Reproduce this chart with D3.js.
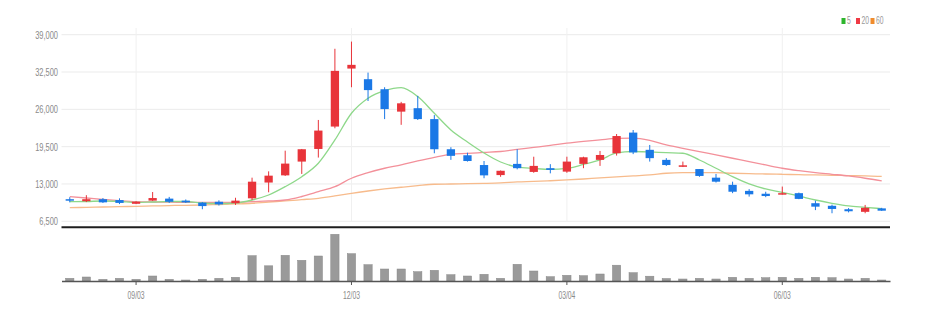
<!DOCTYPE html>
<html><head><meta charset="utf-8">
<script src="https://cdn.jsdelivr.net/npm/d3@7"></script>
<style>
html,body{margin:0;padding:0;background:#fff;}
svg{display:block;font-family:"Liberation Sans",Arial,sans-serif;}
</style></head>
<body><svg id="c" width="925" height="316"></svg>
<script>
const dates = ["2018-08-06","2018-08-13","2018-08-20","2018-08-27","2018-09-03","2018-09-10","2018-09-17","2018-09-24","2018-10-01","2018-10-08",
"2018-10-15","2018-10-22","2018-10-29","2018-11-05","2018-11-12","2018-11-19","2018-11-26","2018-12-03","2018-12-10","2018-12-17",
"2018-12-24","2018-12-31","2019-01-07","2019-01-14","2019-01-21","2019-01-28","2019-02-04","2019-02-11","2019-02-18","2019-02-25",
"2019-03-04","2019-03-11","2019-03-18","2019-03-25","2019-04-01","2019-04-08","2019-04-15","2019-04-22","2019-04-29","2019-05-06",
"2019-05-13","2019-05-20","2019-05-27","2019-06-03","2019-06-10","2019-06-17","2019-06-24","2019-07-01","2019-07-08","2019-07-15"];
const open  = [10350,10000,10350,10200,9550,10100,10450,10100,9750,9900,9650,10500,13250,14500,16900,19100,23000,33100,31250,29500,25600,26200,24300,19050,18000,16300,14550,16500,15100,15750,15150,16500,17200,18350,21950,18950,17200,16000,15600,14100,12850,11800,11300,11150,11400,9650,9200,8600,8150,8750];
const high  = [10700,11050,10550,10500,10000,11600,10750,10300,9850,10150,10600,14100,15200,18800,19100,24150,36550,37800,32400,29850,27300,28350,25000,19400,18450,17000,15350,19050,17750,16450,17750,17750,18750,21700,22400,19800,17500,16900,15600,14750,13400,12100,11650,12550,11500,10100,9400,8800,9350,8850];
const low   = [9800,9850,9700,9500,9500,10050,9700,9700,8600,9250,9350,10200,11550,14400,14750,17600,22700,29850,27450,24300,23300,24150,18350,17200,16900,14000,14250,15550,14950,14850,14950,15750,16150,17950,18200,16900,16150,15950,14250,13250,11400,10800,10700,11150,10350,8450,7900,8050,7900,8300];
const close = [10100,10350,9800,9700,9900,10550,9900,9800,9150,9450,10100,13400,14450,16550,19050,22300,32700,33750,29350,26050,27050,24300,19050,17900,17000,14500,15300,15750,16150,15450,16900,17650,18050,21350,18500,17500,16300,16250,14400,13400,11650,11200,10900,11400,10400,9050,8650,8250,8850,8350];
const volume = [270000,400000,170000,270000,170000,500000,170000,100000,170000,270000,370000,2530000,1520000,2570000,2070000,2500000,4670000,2730000,1630000,1200000,1200000,930000,1070000,630000,500000,670000,270000,1670000,1000000,430000,570000,530000,700000,1580000,830000,480000,250000,200000,270000,200000,370000,270000,330000,370000,270000,370000,330000,200000,270000,100000];
const ma5  = [9920,9950,10040,9950,9780,9860,9950,9950,9690,9600,9690,10210,11080,12530,14270,16610,20670,25320,27940,29260,29790,28220,25320,22410,20320,18400,16830,15960,15700,15530,15700,16400,17180,18400,18660,18580,18450,18350,17180,15740,14270,13000,12130,11550,10910,10210,9640,9170,8940,8700];
const ma20 = [10790,10560,10300,10090,9920,9860,9830,9810,9780,9780,9810,9920,10040,10210,10820,11660,12530,14000,14970,15740,16310,17010,17650,18170,18320,18490,18660,19010,19360,19710,20100,20410,20670,20930,20970,20580,19800,19220,18630,18060,17480,16890,16310,15740,15320,14970,14690,14400,14000,13530];
const ma60 = [8880,8930,8990,9050,9110,9170,9240,9290,9340,9430,9520,9640,9860,10040,10270,10510,10910,11380,11780,12130,12430,12710,12950,13000,13050,13100,13180,13350,13440,13560,13700,13870,14050,14220,14400,14570,14870,14970,14970,14970,14870,14800,14740,14690,14620,14570,14520,14450,14400,14310];
const yTicks = [6500,13000,19500,26000,32500,39000];
const xTickDates = ["2018-09-03","2018-12-03","2019-03-04","2019-06-03"];
const legendLabels = ["5","20","60"];

const upColor = "#e8343a", downColor = "#1a78e6";
const maLineColors = ["#8ed88a","#f3909a","#f7bb8c"];
const maLegendColors = ["#2db52d","#ef3a45","#f08c2c"];

const svg = d3.select("#c");
const parse = d3.timeParse("%Y-%m-%d");
const fmtTick = d3.timeFormat("%m/%d");
const L = 61.5, R = 890;
const SX = 0.68;

const x = d3.scaleBand().domain(dates).range([L, R]).paddingInner(0.5).paddingOuter(0.25);
const y = d3.scaleLinear().domain([6500, 39000]).range([221.3, 34.7]);
const yv = d3.scaleLinear().domain([0, 5000000]).range([281, 231]);
const cx = d => x(d) + x.bandwidth() / 2;

// horizontal grid
svg.append("g").selectAll("line").data(yTicks).join("line")
  .attr("x1", L).attr("x2", R).attr("y1", d => y(d)).attr("y2", d => y(d))
  .attr("stroke", "#ebebeb").attr("stroke-width", 1);
// vertical grid
svg.append("g").selectAll("line").data(xTickDates).join("line")
  .attr("x1", d => cx(d)).attr("x2", d => cx(d)).attr("y1", 28).attr("y2", y(6500))
  .attr("stroke", "#f0f0f0").attr("stroke-width", 1);

// y axis labels
const ya = svg.append("g").attr("transform", "translate(58,0)")
  .call(d3.axisLeft(y).tickValues(yTicks).tickSize(0).tickPadding(0).tickFormat(d3.format(",")));
ya.select(".domain").remove();
ya.selectAll("text").attr("x", 0).attr("transform", `scale(${SX},1)`)
  .attr("fill", "#8a8a8a").attr("font-size", 11);

// MA lines
const mas = [ma5, ma20, ma60];
const line = d3.line().x((d, i) => cx(dates[i])).y(d => y(d)).curve(d3.curveMonotoneX);
[2,1,0].forEach(k => {
  svg.append("path").datum(mas[k]).attr("d", line).attr("fill", "none")
    .attr("stroke", maLineColors[k]).attr("stroke-width", 1.3);
});

// candles
const idx = d3.range(dates.length);
const cg = svg.append("g");
cg.selectAll("line").data(idx).join("line")
  .attr("x1", i => cx(dates[i])).attr("x2", i => cx(dates[i]))
  .attr("y1", i => y(high[i])).attr("y2", i => y(low[i]))
  .attr("stroke", i => close[i] >= open[i] ? upColor : downColor).attr("stroke-width", 1);
cg.selectAll("rect").data(idx).join("rect")
  .attr("x", i => x(dates[i])).attr("width", x.bandwidth())
  .attr("y", i => y(Math.max(open[i], close[i])))
  .attr("height", i => Math.max(1.5, Math.abs(y(open[i]) - y(close[i]))))
  .attr("fill", i => close[i] >= open[i] ? upColor : downColor);

// separator
svg.append("line").attr("x1", L).attr("x2", R).attr("y1", 227.3).attr("y2", 227.3)
  .attr("stroke", "#1e1e1e").attr("stroke-width", 2);

// volume bars
svg.append("g").selectAll("rect").data(idx).join("rect")
  .attr("x", i => x(dates[i])).attr("width", x.bandwidth())
  .attr("y", i => yv(volume[i])).attr("height", i => yv(0) - yv(volume[i]))
  .attr("fill", "#9a9a9a").attr("stroke", "#888").attr("stroke-width", 0.5);

// x axis
const xa = svg.append("g").attr("transform", "translate(0,281)")
  .call(d3.axisBottom(x).tickValues(xTickDates).tickSize(4).tickSizeOuter(0).tickPadding(7)
    .tickFormat(d => fmtTick(parse(d))));
xa.select(".domain").attr("stroke", "#555").attr("stroke-width", 1.5);
xa.selectAll(".tick line").attr("stroke", "#555");
xa.selectAll("text").attr("transform", `scale(${SX},1)`).attr("fill", "#8a8a8a").attr("font-size", 10);

// legend
const lx = [841.5, 856, 870.5];
const lg = svg.append("g");
legendLabels.forEach((t, k) => {
  lg.append("rect").attr("x", lx[k]).attr("y", 18).attr("width", 4).attr("height", 6).attr("fill", maLegendColors[k]);
  lg.append("text").attr("transform", `translate(${lx[k] + 5.5},24) scale(${SX},1)`)
    .attr("font-size", 10).attr("fill", "#999").text(t);
});
</script></body></html>
